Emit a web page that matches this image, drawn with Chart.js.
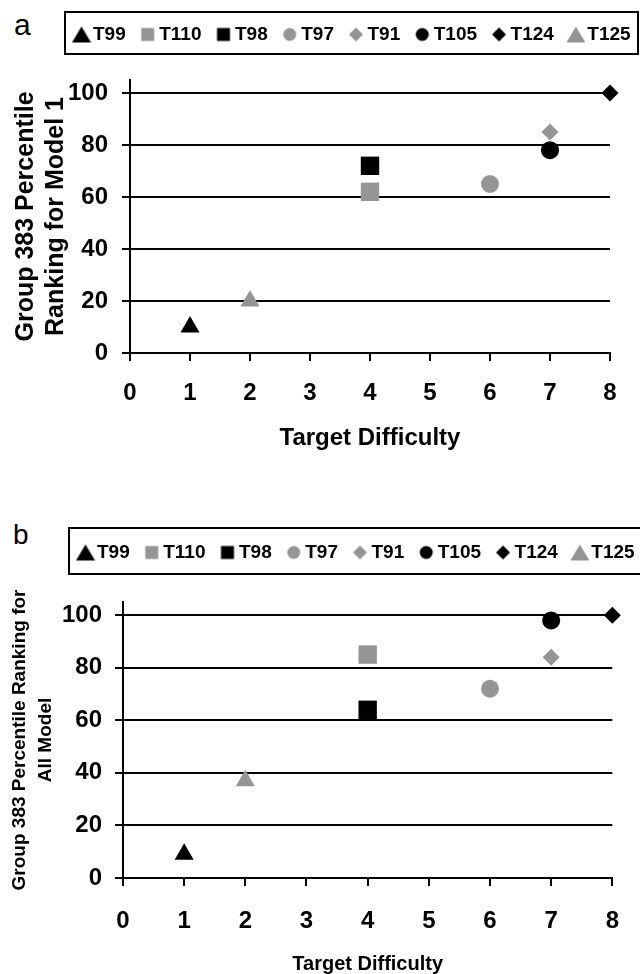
<!DOCTYPE html>
<html>
<head>
<meta charset="utf-8">
<script src="https://cdn.jsdelivr.net/npm/chart.js@4"></script>
<style>
  body { margin: 0; background: #fff; overflow: hidden; width: 640px; height: 974px; position: relative; }
  .panel { position: absolute; left: 0; width: 640px; }
  .tag { position: absolute; font-family: "Liberation Sans", Arial, sans-serif; line-height: 1; color: #000; }
</style>
</head>
<body>
<div class="tag" style="left:14px; top:10px; font-size:30px;">a</div>
<div class="panel" style="top:0; height:458px;"><canvas id="chartA"></canvas></div>
<div class="tag" style="left:13px; top:521px; font-size:28px;">b</div>
<div class="panel" style="top:488px; height:492px;"><canvas id="chartB"></canvas></div>
<script>
// --- data ---
const targets = ["T99", "T110", "T98", "T97", "T91", "T105", "T124", "T125"];
const difficulty = [1, 4, 4, 6, 7, 7, 8, 2];
const rankModel1 = [10, 62, 72, 65, 85, 78, 100, 20];
const rankAllModel = [9, 85, 64, 72, 84, 98, 100, 37];
const xTicks = [0, 1, 2, 3, 4, 5, 6, 7, 8];
const yTicks = [0, 20, 40, 60, 80, 100];

// marker look per target
const BLACK = "#000000";
const GRAY = "#959595";
const markerStyle = ["triangle", "rect", "rect", "circle", "rectRot", "circle", "rectRot", "triangle"];
const markerColor = [BLACK, GRAY, BLACK, GRAY, GRAY, BLACK, BLACK, GRAY];
const markerRadius = { triangle: 11, rect: 13, circle: 9, rectRot: 8.5 };

Chart.defaults.font.family = "'Liberation Sans', Arial, sans-serif";
Chart.defaults.color = "#000";

// small canvases for the legend glyphs (sizes as in the printed key)
function legendGlyph(style, color) {
  const c = document.createElement("canvas");
  c.width = 20; c.height = 20;
  const g = c.getContext("2d");
  g.fillStyle = color;
  g.beginPath();
  if (style === "triangle") {
    g.moveTo(10, 2); g.lineTo(19.5, 18); g.lineTo(0.5, 18);
  } else if (style === "rect") {
    g.rect(3.5, 3.5, 13, 13);
  } else if (style === "circle") {
    g.arc(10, 10, 6.5, 0, Math.PI * 2);
  } else {
    g.moveTo(10, 3); g.lineTo(17, 10); g.lineTo(10, 17); g.lineTo(3, 10);
  }
  g.closePath();
  g.fill();
  return c;
}
const glyphs = targets.map((t, i) => legendGlyph(markerStyle[i], markerColor[i]));

function makeDatasets(values) {
  return targets.map((t, i) => ({
    label: t,
    data: [{ x: difficulty[i], y: values[i] }],
    pointStyle: markerStyle[i],
    pointRadius: markerRadius[markerStyle[i]],
    pointHoverRadius: markerRadius[markerStyle[i]],
    backgroundColor: markerColor[i],
    borderColor: markerColor[i],
    borderWidth: 0,
    showLine: false,
    clip: false
  }));
}

// legend placement + frame
const legendPlugin = {
  id: "legendFrame",
  beforeInit(chart) {
    const orig = chart.legend.fit;
    chart.legend.fit = function () {
      this.maxWidth = 2000; // keep every key on one row
      orig.bind(chart.legend)();
      this.height = chart.options.plugins.legendFrame.height;
    };
  },
  afterLayout(chart) {
    const o = chart.options.plugins.legendFrame;
    chart.legend.left = o.left;
    chart.legend.right = chart.width + 60;
    chart.legend.width = chart.legend.right - o.left;
  },
  afterDraw(chart) {
    const o = chart.options.plugins.legendFrame;
    const ctx = chart.ctx;
    ctx.save();
    ctx.strokeStyle = "#000";
    ctx.lineWidth = 2;
    ctx.strokeRect(o.box[0], o.box[1], o.box[2], o.box[3]);
    ctx.restore();
  }
};

function scatterConfig(values, opts) {
  return {
    type: "scatter",
    data: { datasets: makeDatasets(values) },
    options: {
      responsive: true,
      maintainAspectRatio: false,
      animation: false,
      layout: { padding: { top: opts.padTop, right: opts.padRight, left: 0, bottom: 0 } },
      plugins: {
        tooltip: { enabled: false },
        legend: {
          position: "top",
          align: "start",
          labels: {
            usePointStyle: true,
            boxWidth: 4,
            padding: 20,
            color: "#000",
            font: { size: 19, weight: "bold" },
            generateLabels(chart) {
              const items = Chart.defaults.plugins.legend.labels.generateLabels(chart);
              items.forEach((it, i) => { it.pointStyle = glyphs[i]; });
              return items;
            }
          }
        },
        legendFrame: { height: opts.legendHeight, left: opts.legendLeft, box: opts.box }
      },
      scales: {
        x: {
          type: "linear",
          min: 0,
          max: 8,
          afterBuildTicks: s => { s.ticks = xTicks.map(v => ({ value: v })); },
          afterFit: s => { s.height = opts.xHeight; },
          grid: { drawOnChartArea: false, drawTicks: true, tickLength: 8, color: "#000", lineWidth: 2 },
          border: { color: "#000", width: 2 },
          ticks: { padding: opts.xTickPad, font: { size: 24, weight: "bold" }, color: "#000" },
          title: {
            display: true,
            text: "Target Difficulty",
            color: "#000",
            font: { size: opts.xTitleSize, weight: "bold" },
            padding: { top: 0, bottom: opts.xTitlePad }
          }
        },
        y: {
          min: 0,
          max: 105,
          afterBuildTicks: s => { s.ticks = yTicks.map(v => ({ value: v })); },
          afterFit: s => { s.width = opts.yWidth; },
          grid: { color: "#000", lineWidth: 2, tickLength: 8 },
          border: { color: "#000", width: 2 },
          ticks: { padding: opts.yTickPad, font: { size: 24, weight: "bold" }, color: "#000" },
          title: {
            display: true,
            text: opts.yTitle,
            color: "#000",
            font: { size: opts.yTitleSize, weight: "bold", lineHeight: opts.yTitleLine },
            padding: { top: opts.yTitlePad, bottom: 0 }
          }
        }
      }
    },
    plugins: [legendPlugin]
  };
}

new Chart(document.getElementById("chartA"), scatterConfig(rankModel1, {
  padTop: 5, padRight: 30, legendHeight: 75, legendLeft: 59.5,
  box: [65, 12, 573, 42],
  xHeight: 105, xTickPad: 18, xTitleSize: 24, xTitlePad: 5,
  yWidth: 130, yTickPad: 14,
  yTitle: ["Group 383 Percentile", "Ranking for Model 1"],
  yTitleSize: 25, yTitleLine: 1.2, yTitlePad: 11
}));

new Chart(document.getElementById("chartB"), scatterConfig(rankAllModel, {
  padTop: 35, padRight: 14, legendHeight: 79, legendLeft: 63.5,
  box: [69, 40, 580, 46],
  xHeight: 102, xTickPad: 21, xTitleSize: 20, xTitlePad: 4,
  yWidth: 123, yTickPad: 13,
  yTitle: ["Group 383 Percentile Ranking for", "All Model"],
  yTitleSize: 19, yTitleLine: 1.37, yTitlePad: 7
}));
</script>
</body>
</html>
